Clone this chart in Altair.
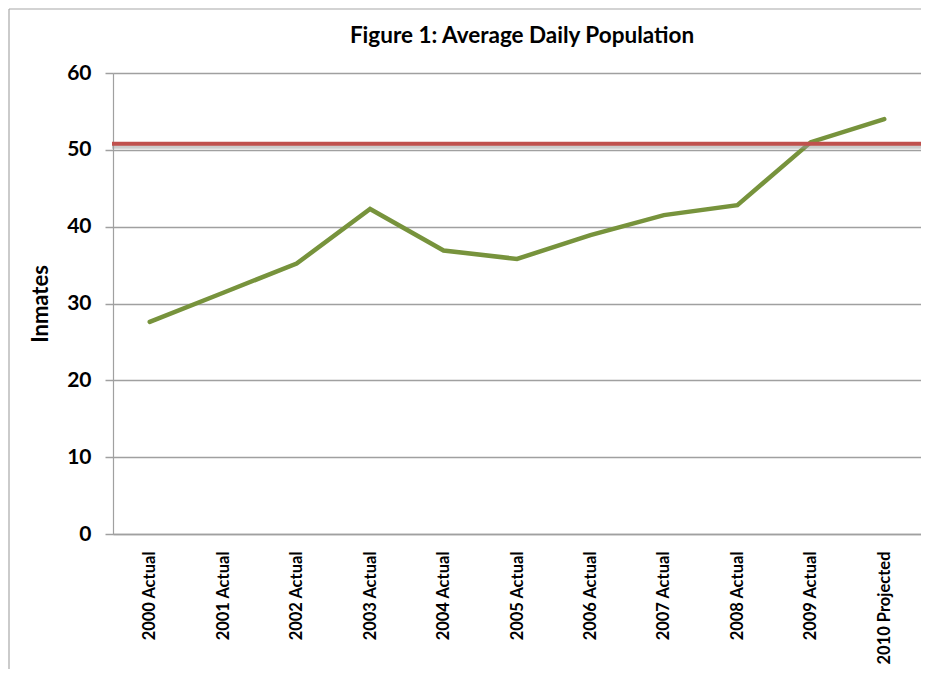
import altair as alt
import pandas as pd

years = ["2000 Actual", "2001 Actual", "2002 Actual", "2003 Actual", "2004 Actual",
         "2005 Actual", "2006 Actual", "2007 Actual", "2008 Actual", "2009 Actual",
         "2010 Projected"]
inmates = [27.6, 31.4, 35.2, 42.3, 36.9, 35.8, 38.9, 41.5, 42.8, 51.0, 54.0]
capacity = 50.8

df = pd.DataFrame({"year": years, "inmates": inmates})
cap_df = pd.DataFrame({"cap": [capacity]})

FONT = "Lato"
GRID = "#a0a0a0"

x_enc = alt.X("year:N", sort=years,
              scale=alt.Scale(type="point", padding=0.5),
              axis=alt.Axis(title=None, labelAngle=-90, labelFontSize=16.5,
                            labelFontWeight="bold", labelFont=FONT, labelColor="#000000",
                            ticks=False, labelPadding=17, domain=True,
                            domainColor=GRID, domainWidth=1.5, grid=False))
y_enc = alt.Y("inmates:Q",
              scale=alt.Scale(domain=[0, 60], nice=False, zero=True),
              axis=alt.Axis(title="Inmates", values=[0, 10, 20, 30, 40, 50, 60],
                            titleFont=FONT, titleFontSize=22, titleFontWeight="bold",
                            titleColor="#000000", titlePadding=14,
                            labelFont=FONT, labelFontSize=21, labelFontWeight="bold",
                            labelColor="#000000", labelPadding=14,
                            tickSize=8, tickColor=GRID, tickWidth=1.5,
                            domainColor=GRID, domainWidth=1.2,
                            grid=True, gridColor=GRID, gridWidth=1.5))

line = alt.Chart(df).mark_line(color="#77933c", strokeWidth=4.5,
                               strokeCap="round", strokeJoin="miter").encode(
    x=x_enc, y=y_enc)

shadow = alt.Chart(cap_df).mark_rule(color="#9a9a9a", strokeWidth=4, opacity=0.5,
                                     yOffset=3).encode(
    y=alt.Y("cap:Q"), x=alt.value(-1), x2=alt.value(812))
cap_rule = alt.Chart(cap_df).mark_rule(color="#c0504d", strokeWidth=4).encode(
    y=alt.Y("cap:Q"), x=alt.value(-1), x2=alt.value(812))

frame_top = alt.Chart(cap_df).mark_rule(color="#a8a8a8", strokeWidth=1.2).encode(
    x=alt.value(-104), x2=alt.value(840), y=alt.value(-64))
frame_left = alt.Chart(cap_df).mark_rule(color="#a8a8a8", strokeWidth=1.2).encode(
    x=alt.value(-104), y=alt.value(-64), y2=alt.value(620))

chart = alt.layer(frame_top, frame_left, line, shadow, cap_rule).properties(
    width=808, height=461,
    autosize=alt.AutoSizeParams(type="none"),
    padding={"left": 105, "top": 65, "right": 0, "bottom": 135},
    title=alt.TitleParams("Figure 1: Average Daily Population", font=FONT,
                          fontSize=22.5, fontWeight="bold", color="#000000",
                          anchor="middle", frame="group", baseline="alphabetic",
                          offset=-57, dx=5),
).configure_view(stroke=None).configure(background="white")

chart.save("out.html", embed_options={"renderer": "svg", "actions": False})
